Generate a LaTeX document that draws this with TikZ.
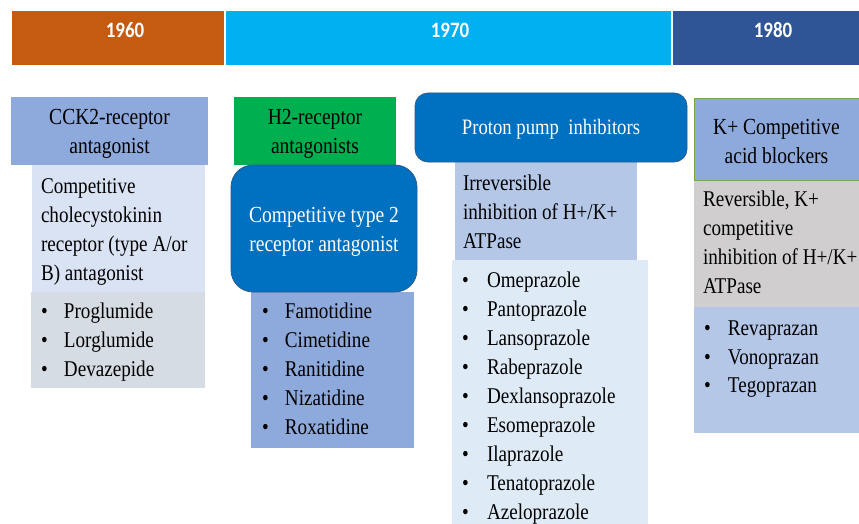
\documentclass[tikz,border=0pt]{standalone}
\usepackage{fontspec}
\setmainfont{Liberation Serif}[FakeStretch=0.85]
\newfontfamily\yearfont{Carlito}[FakeStretch=0.86]
\definecolor{cOrange}{HTML}{C55A11}
\definecolor{cCyan}{HTML}{00B0F0}
\definecolor{cNavy}{HTML}{2F5597}
\definecolor{cHead}{HTML}{8EA9DB}
\definecolor{cPale}{HTML}{DAE3F3}
\definecolor{cGrayBlue}{HTML}{D6DCE4}
\definecolor{cGreen}{HTML}{00B050}
\definecolor{cPPI}{HTML}{0070C0}
\definecolor{cPPIborder}{HTML}{2E5C8A}
\definecolor{cMid}{HTML}{B4C7E7}
\definecolor{cLight}{HTML}{DEEBF7}
\definecolor{cGray}{HTML}{D0CECE}
\definecolor{cOlive}{HTML}{70AD47}
\newcommand{\bul}[1]{\makebox[#1][l]{\textbullet}}
\begin{document}
\begin{tikzpicture}[x=1pt,y=-1pt,
  box/.style={anchor=north west,inner sep=0pt,outer sep=0pt,draw=none},
  yeartxt/.style={inner sep=0pt,text=white,font=\yearfont\bfseries\fontsize{22}{26}\selectfont},
  headtxt/.style={inner sep=0pt,align=center,font=\fontsize{23}{29}\selectfont},
  txt/.style={anchor=north west,inner sep=0pt,outer sep=0pt,align=left,font=\fontsize{22.5}{29}\selectfont},
  rbox/.style={box,draw=cPPIborder,line width=0.8pt,fill=cPPI}
]
\useasboundingbox (0,0) rectangle (859,524);
% year bars
\node[box,fill=cOrange,minimum width=212pt,minimum height=54pt] (y60) at (12,11) {};
\node[box,fill=cCyan,minimum width=445pt,minimum height=54pt] (y70) at (226,11) {};
\node[box,fill=cNavy,minimum width=186pt,minimum height=54pt] (y80) at (673,11) {};
\node[yeartxt] (y60t) at (125,30) {1960};
\node[yeartxt] (y70t) at (450,30) {1970};
\node[yeartxt] (y80t) at (773,30) {1980};
% CCK2 column
\node[box,fill=cPale,minimum width=173pt,minimum height=127pt] (cckdesc) at (32,165) {};
\node[box,fill=cGrayBlue,minimum width=174pt,minimum height=96pt] (ccklist) at (31,292) {};
\node[box,fill=cHead,minimum width=197pt,minimum height=68pt] (cckhead) at (11,97) {};
\node[headtxt,yshift=-3pt] (cckheadt) at (cckhead.center) {CCK2-receptor\\antagonist};
\node[txt] (cckdesctxt) at (41,172.7) {\strut Competitive\\cholecystokinin\\receptor (type A/or\\B) antagonist};
\node[txt] (ccklisttxt) at (41,297.7) {\strut\bul{23pt}Proglumide\\\bul{23pt}Lorglumide\\\bul{23pt}Devazepide};
% H2 column
\node[box,fill=cHead,minimum width=163pt,minimum height=156pt] (h2list) at (251,292) {};
\node[box,fill=cGreen,minimum width=162pt,minimum height=68pt] (h2head) at (234,97) {};
\node[headtxt,yshift=-3pt] (h2headt) at (h2head.center) {H2-receptor\\antagonists};
\node[rbox,rounded corners=22pt,minimum width=186pt,minimum height=127pt] (h2desc) at (231,165) {};
\node[headtxt,text=white,yshift=-3pt] (h2desct) at (h2desc.center) {Competitive type 2\\receptor antagonist};
\node[txt] (h2listtxt) at (262,297.7) {\strut\bul{23pt}Famotidine\\\bul{23pt}Cimetidine\\\bul{23pt}Ranitidine\\\bul{23pt}Nizatidine\\\bul{23pt}Roxatidine};
% PPI column
\node[box,fill=cMid,minimum width=182pt,minimum height=98pt] (ppidesc) at (455,162) {};
\node[box,fill=cLight,minimum width=196pt,minimum height=264pt] (ppilist) at (452,260) {};
\node[rbox,rounded corners=13pt,minimum width=272pt,minimum height=69pt] (ppihead) at (415,93) {};
\node[headtxt,text=white,font=\fontsize{22}{29}\selectfont,yshift=-2pt] (ppiheadt) at (ppihead.center) {Proton pump\ \ inhibitors};
\node[txt] (ppidesctxt) at (463,169.7) {\strut Irreversible\\inhibition of H+/K+\\ATPase};
\node[txt,font=\fontsize{22.5}{28.9}\selectfont] (ppilisttxt) at (462,267.7) {\strut\bul{25pt}Omeprazole\\\bul{25pt}Pantoprazole\\\bul{25pt}Lansoprazole\\\bul{25pt}Rabeprazole\\\bul{25pt}Dexlansoprazole\\\bul{25pt}Esomeprazole\\\bul{25pt}Ilaprazole\\\bul{25pt}Tenatoprazole\\\bul{25pt}Azeloprazole};
% P-CAB column
\node[box,fill=cGray,minimum width=165pt,minimum height=127pt] (kdesc) at (694,180) {};
\node[box,fill=cMid,minimum width=165pt,minimum height=126pt] (klist) at (694,307) {};
\node[box,fill=cHead,draw=cOlive,line width=0.8pt,minimum width=165pt,minimum height=82pt] (khead) at (694,98) {};
\node[headtxt,yshift=-2pt] (kheadt) at (khead.center) {K+ Competitive\\acid blockers};
\node[txt] (kdesctxt) at (703,185.7) {\strut Reversible, K+\\competitive\\inhibition of H+/K+\\ATPase};
\node[txt,font=\fontsize{22.5}{28.5}\selectfont] (klisttxt) at (704,315.7) {\strut\bul{24pt}Revaprazan\\\bul{24pt}Vonoprazan\\\bul{24pt}Tegoprazan};
\end{tikzpicture}
\end{document}
